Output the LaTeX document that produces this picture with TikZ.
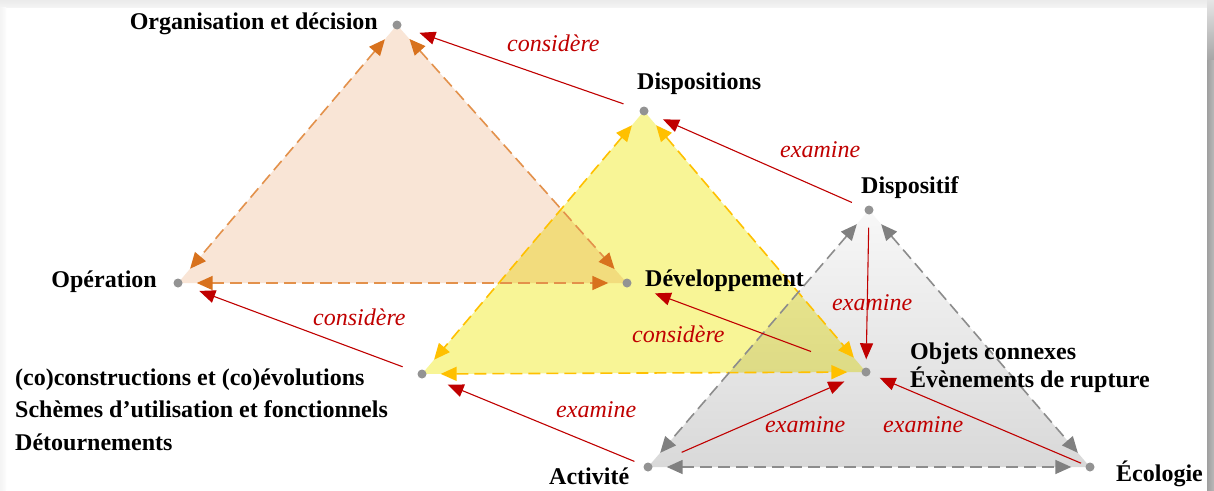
\documentclass[tikz,border=0pt]{standalone}
\usepackage{fontspec}
\setmainfont{Liberation Serif}
\usetikzlibrary{arrows.meta}
\pgfdeclarelayer{background}
\pgfsetlayers{background,main}

\definecolor{peach}{HTML}{F9E5D6}
\definecolor{lemon}{HTML}{F8F596}
\definecolor{orangeline}{HTML}{E3914B}
\definecolor{orangetip}{HTML}{D8721E}
\definecolor{goldline}{HTML}{FFC000}
\definecolor{greyline}{HTML}{8C8C8C}
\definecolor{greytip}{HTML}{808080}
\definecolor{darkred}{HTML}{C00000}
\definecolor{dotgrey}{HTML}{939393}

\begin{document}
\begin{tikzpicture}[x=1pt,y=-1pt,
  dot/.style={circle,fill=dotgrey,inner sep=0pt,minimum size=9pt},
  concept/.style={font=\fontsize{24}{28}\selectfont\bfseries,inner sep=0pt,text=black},
  verb/.style={font=\fontsize{24}{28}\selectfont\itshape,inner sep=0pt,text=darkred},
  triedge/.style={line width=1.6pt,dash pattern=on 12pt off 6pt,draw=#1,
     shorten <=14pt,shorten >=14pt},
  orangeedge/.style={triedge=orangeline,
     {Triangle[length=16pt,width=14pt,color=orangetip]}-{Triangle[length=16pt,width=14pt,color=orangetip]}},
  goldedge/.style={triedge=goldline,
     {Triangle[length=16pt,width=14pt,color=goldline]}-{Triangle[length=16pt,width=14pt,color=goldline]}},
  greyedge/.style={triedge=greyline,
     {Triangle[length=16pt,width=14pt,color=greytip]}-{Triangle[length=16pt,width=14pt,color=greytip]}},
  link/.style={line width=1.1pt,draw=darkred,-{Triangle[length=16pt,width=13pt,color=darkred]}}
]
\useasboundingbox (0,0) rectangle (1214,490);

% vertices of the three triangles
\node[dot] (org)    at (397,25)  {};
\node[dot] (oper)   at (178,283) {};
\node[dot] (dev)    at (627,283) {};
\node[dot] (disps)  at (644,111) {};
\node[dot] (cocons) at (422,374) {};
\node[dot] (objets) at (866,372) {};
\node[dot] (dispf)  at (869,210) {};
\node[dot] (activ)  at (648,467) {};
\node[dot] (eco)    at (1090,467) {};

% page frame and triangle fills
\begin{pgfonlayer}{background}
  \fill[white] (0,0) rectangle (1214,490);
  \shade[top color=gray!16, bottom color=gray!9] (0,0) rectangle (1207,7);
  \shade[left color=gray!9, right color=gray!2] (0,7) rectangle (6,490);
  \shade[top color=gray!20, bottom color=gray!70] (1207,0) rectangle (1214,60);
  \shade[left color=gray!75, right color=gray!55] (1207,60) rectangle (1214,490);
  \begin{scope}[blend mode=multiply]
    \fill[peach] (org.center) -- (oper.center) -- (dev.center) -- cycle;
    \fill[lemon] (disps.center) -- (cocons.center) -- (objets.center) -- cycle;
    \shade[top color=gray!6, bottom color=gray!30]
      (dispf.center) -- (activ.center) -- (eco.center) -- cycle;
  \end{scope}
\end{pgfonlayer}

% triangle sides
\draw[orangeedge] (org) -- (oper);
\draw[orangeedge] (org) -- (dev);
\draw[orangeedge] (oper) -- (dev);
\draw[goldedge] (disps) -- (cocons);
\draw[goldedge] (disps) -- (objets);
\draw[goldedge] (cocons) -- (objets);
\draw[greyedge] (dispf) -- (activ);
\draw[greyedge] (dispf) -- (eco);
\draw[greyedge] (activ) -- (eco);

% relations between the poles
\draw[link, shorten <=17pt, shorten >=19pt] (disps) -- (org);
\draw[link, shorten <=14pt, shorten >=16pt] (dispf) -- (disps);
\draw[link, shorten <=16pt, shorten >=18pt] (cocons) -- (oper);
\draw[link, shorten <=13pt, shorten >=8pt] (dispf) -- (objets);
\draw[link, shorten <=54pt, shorten >=25pt] (objets) -- (dev);
\draw[link, shorten <=32pt, shorten >=19pt] (activ) -- (objets);
\draw[link, shorten <=5pt, shorten >=10pt] (eco) -- (objets);
\draw[link, shorten <=10pt, shorten >=23pt] (activ) -- (cocons);

% pole names
\node[concept, anchor=base east] (lorg) at (378,29) {Organisation et décision};
\node[concept, anchor=base west] (ldisps) at (637,89) {Dispositions};
\node[concept, anchor=base west] (ldispf) at (861,193) {Dispositif};
\node[concept, anchor=base east] (loper) at (157,287) {Opération};
\node[concept, anchor=base west] (ldev) at (645,286) {Développement};
\node[concept, anchor=base west] (lobj1) at (910,359) {Objets connexes};
\node[concept, anchor=base west] (lobj2) at (910,387) {Évènements de rupture};
\node[concept, anchor=base west] (lco1) at (15,385) {(co)constructions et (co)évolutions};
\node[concept, anchor=base west] (lco2) at (15,417) {Schèmes d’utilisation et fonctionnels};
\node[concept, anchor=base west] (lco3) at (15,450) {Détournements};
\node[concept, anchor=base west] (lactiv) at (549,484) {Activité};
\node[concept, anchor=base west] (leco) at (1116,481) {Écologie};

% relation labels
\node[verb, anchor=base west] (v1) at (507,51) {considère};
\node[verb, anchor=base west] (v2) at (780,157) {examine};
\node[verb, anchor=base west] (v3) at (313,325) {considère};
\node[verb, anchor=base west] (v4) at (832,310) {examine};
\node[verb, anchor=base west] (v5) at (632,342) {considère};
\node[verb, anchor=base west] (v6) at (765,432) {examine};
\node[verb, anchor=base west] (v7) at (883,432) {examine};
\node[verb, anchor=base west] (v8) at (556,417) {examine};
\end{tikzpicture}
\end{document}
